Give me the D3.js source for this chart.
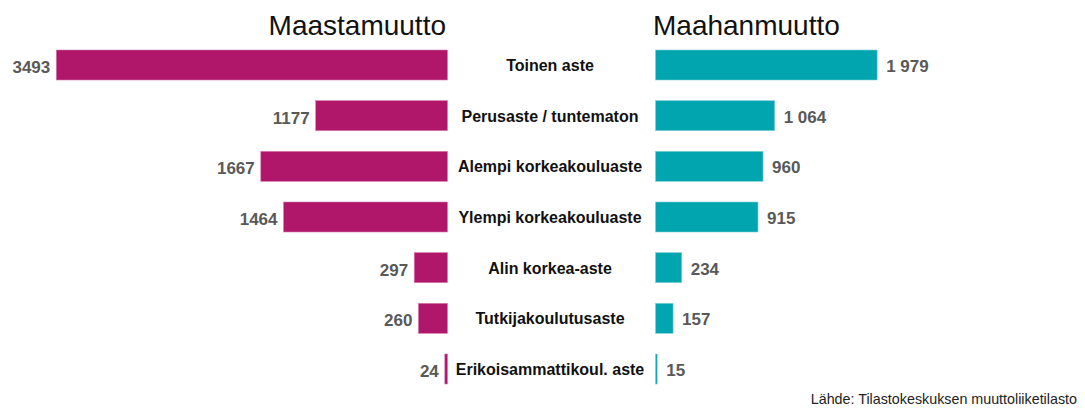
<!DOCTYPE html>
<html>
<head>
<meta charset="utf-8">
<script src="https://cdn.jsdelivr.net/npm/d3@7"></script>
<style>
  body { margin: 0; background: #fff; }
  text { font-family: "Liberation Sans", Arial, sans-serif; }
</style>
</head>
<body>
<script>
// Data
const categories = [
  "Toinen aste",
  "Perusaste / tuntematon",
  "Alempi korkeakouluaste",
  "Ylempi korkeakouluaste",
  "Alin korkea-aste",
  "Tutkijakoulutusaste",
  "Erikoisammattikoul. aste"
];
const maastamuutto = [3493, 1177, 1667, 1464, 297, 260, 24];
const maahanmuutto = [1979, 1064, 960, 915, 234, 157, 15];
const titles = ["Maastamuutto", "Maahanmuutto"];
const source = "Lähde: Tilastokeskuksen muuttoliiketilasto";

// Dimensions
const width = 1085;
const height = 408;
const leftZero = 447.5;
const rightZero = 655.5;
const labelCenter = 550;
const barHeight = 30;

const svg = d3.select("body")
  .append("svg")
  .attr("width", width)
  .attr("height", height);

// Scales
const xScale = d3.scaleLinear()
  .domain([0, 3500])
  .range([0, 392]);

const yScale = d3.scalePoint()
  .domain(categories)
  .range([65, 369]);

const fiFormat = d3.formatLocale({ decimal: ",", thousands: " ", grouping: [3], currency: ["", " €"] }).format(",d");

// Titles
svg.append("text")
  .attr("x", 446)
  .attr("y", 35)
  .attr("text-anchor", "end")
  .attr("font-size", 28)
  .attr("fill", "#111")
  .text(titles[0]);

svg.append("text")
  .attr("x", 653)
  .attr("y", 35)
  .attr("text-anchor", "start")
  .attr("font-size", 28)
  .attr("fill", "#111")
  .text(titles[1]);

// Left bars (maastamuutto)
svg.selectAll("rect.left")
  .data(maastamuutto)
  .enter()
  .append("rect")
  .attr("class", "left")
  .attr("x", d => leftZero - xScale(d))
  .attr("y", (d, i) => yScale(categories[i]) - barHeight / 2)
  .attr("width", d => xScale(d))
  .attr("height", barHeight)
  .attr("fill", "#b01669")
  .attr("stroke", "#d57aab")
  .attr("stroke-width", 0.6);

svg.selectAll("text.leftval")
  .data(maastamuutto)
  .enter()
  .append("text")
  .attr("class", "leftval")
  .attr("x", d => leftZero - xScale(d) - 6)
  .attr("y", (d, i) => yScale(categories[i]) + 8)
  .attr("text-anchor", "end")
  .attr("font-size", 17)
  .attr("font-weight", "bold")
  .attr("fill", "#595959")
  .text(d => d);

// Right bars (maahanmuutto)
svg.selectAll("rect.right")
  .data(maahanmuutto)
  .enter()
  .append("rect")
  .attr("class", "right")
  .attr("x", rightZero)
  .attr("y", (d, i) => yScale(categories[i]) - barHeight / 2)
  .attr("width", d => xScale(d))
  .attr("height", barHeight)
  .attr("fill", "#00a5b0")
  .attr("stroke", "#7fd0d6")
  .attr("stroke-width", 0.6);

svg.selectAll("text.rightval")
  .data(maahanmuutto)
  .enter()
  .append("text")
  .attr("class", "rightval")
  .attr("x", d => rightZero + xScale(d) + 9)
  .attr("y", (d, i) => yScale(categories[i]) + 7)
  .attr("text-anchor", "start")
  .attr("font-size", 17)
  .attr("font-weight", "bold")
  .attr("fill", "#595959")
  .text(d => fiFormat(d));

// Category labels
svg.selectAll("text.cat")
  .data(categories)
  .enter()
  .append("text")
  .attr("class", "cat")
  .attr("x", labelCenter)
  .attr("y", d => yScale(d) + 6)
  .attr("text-anchor", "middle")
  .attr("font-size", 16)
  .attr("font-weight", "bold")
  .attr("fill", "#111")
  .text(d => d);

// Source
svg.append("text")
  .attr("x", 1077)
  .attr("y", 404)
  .attr("text-anchor", "end")
  .attr("font-size", 14.3)
  .attr("fill", "#222")
  .text(source);
</script>
</body>
</html>
